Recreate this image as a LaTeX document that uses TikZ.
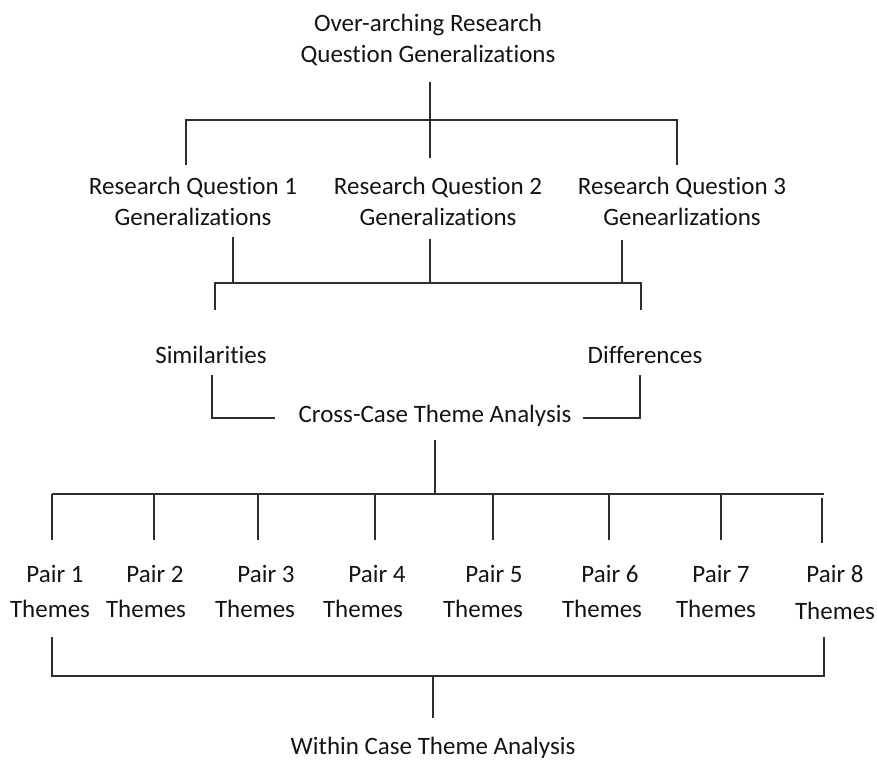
\documentclass[tikz,border=0pt]{standalone}
\usepackage{fontspec}
\setmainfont[Ligatures=NoCommon]{Carlito}
\begin{document}
\begin{tikzpicture}[x=1pt,y=-1pt,
  lbl/.style={font=\fontsize{25}{31}\selectfont, align=center, inner sep=0pt, text=black!92},
  ln/.style={draw=black!82, line width=1.4pt}]
\useasboundingbox (0,0) rectangle (877,760);

% ---------- labels ----------
\node[lbl] (top) at (428,40) {Over-arching Research\\Question Generalizations};
\node[lbl] (rq1) at (193,201) {Research Question 1\\Generalizations};
\node[lbl] (rq2) at (438,201) {Research Question 2\\Generalizations};
\node[lbl] (rq3) at (682,201) {Research Question 3\\Genearlizations};
\node[lbl] (sim) at (211,355) {Similarities};
\node[lbl] (dif) at (645,355) {Differences};
\node[lbl] (cross) at (435,416) {Cross-Case Theme Analysis};
\node[lbl] (within) at (433,748) {Within Case Theme Analysis};

% pair nodes: "Pair n" line and "Themes" line
\foreach \n/\px/\tx/\ty in {1/55/50/609, 2/155/146/609, 3/266/255/609, 4/377/363/609,
                            5/494/483/609, 6/610/602/609, 7/721/716/609, 8/835/835/611}{
  \node[lbl] (pair\n) at (\px,574) {Pair \n};
  \node[lbl] (them\n) at (\tx,\ty) {Themes};
}

% ---------- connector points ----------
\coordinate (top-s) at (430,82);
\coordinate (top-j) at (430,120);
\coordinate (rq1-n) at (186,165);
\coordinate (rq2-n) at (430,158);
\coordinate (rq3-n) at (677,165);

\coordinate (rq1-s) at (233,237);
\coordinate (rq2-s) at (430,239);
\coordinate (rq3-s) at (622,240);
\coordinate (mid-l) at (215,283);
\coordinate (mid-r) at (641,283);
\coordinate (sim-n) at (215,310);
\coordinate (dif-n) at (641,310);

\coordinate (sim-s) at (212,375);
\coordinate (cross-w) at (275,418);
\coordinate (dif-s) at (640,375);
\coordinate (cross-e) at (583,418);

\coordinate (cross-s) at (435,440);
\coordinate (bus-j) at (435,494);
\coordinate (bus-l) at (52,494);
\coordinate (bus-r) at (824,494);

\coordinate (low-l) at (52,637);
\coordinate (low-r) at (824,637);
\coordinate (low-j) at (433,676);
\coordinate (within-n) at (433,718);

% ---------- connectors ----------
% over-arching question to the three research questions
\draw[ln] (top-s) -- (top-j) -- (rq2-n);
\draw[ln] (rq1-n) |- (top-j) -| (rq3-n);

% research questions to similarities / differences
\draw[ln] (rq1-s) -- (rq1-s |- mid-l);
\draw[ln] (rq2-s) -- (rq2-s |- mid-l);
\draw[ln] (rq3-s) -- (rq3-s |- mid-l);
\draw[ln] (sim-n) -- (mid-l) -- (mid-r) -- (dif-n);

% similarities / differences to cross-case analysis
\draw[ln] (sim-s) |- (cross-w);
\draw[ln] (dif-s) |- (cross-e);

% cross-case analysis to the pair themes
\draw[ln] (cross-s) -- (bus-j);
\draw[ln] (bus-l) -- (bus-r);
\foreach \n/\x in {1/52, 2/154, 3/258, 4/375, 5/493, 6/609, 7/721}{
  \coordinate (pt\n) at (\x,540);
  \draw[ln] (\x,494) -- (pt\n);
}
\coordinate (pt8a) at (822,498);
\coordinate (pt8) at (822,543);
\draw[ln] (pt8a) -- (pt8);

% pair themes to within-case analysis
\draw[ln] (low-l) |- (low-j) -| (low-r);
\draw[ln] (low-j) -- (within-n);
\end{tikzpicture}
\end{document}
